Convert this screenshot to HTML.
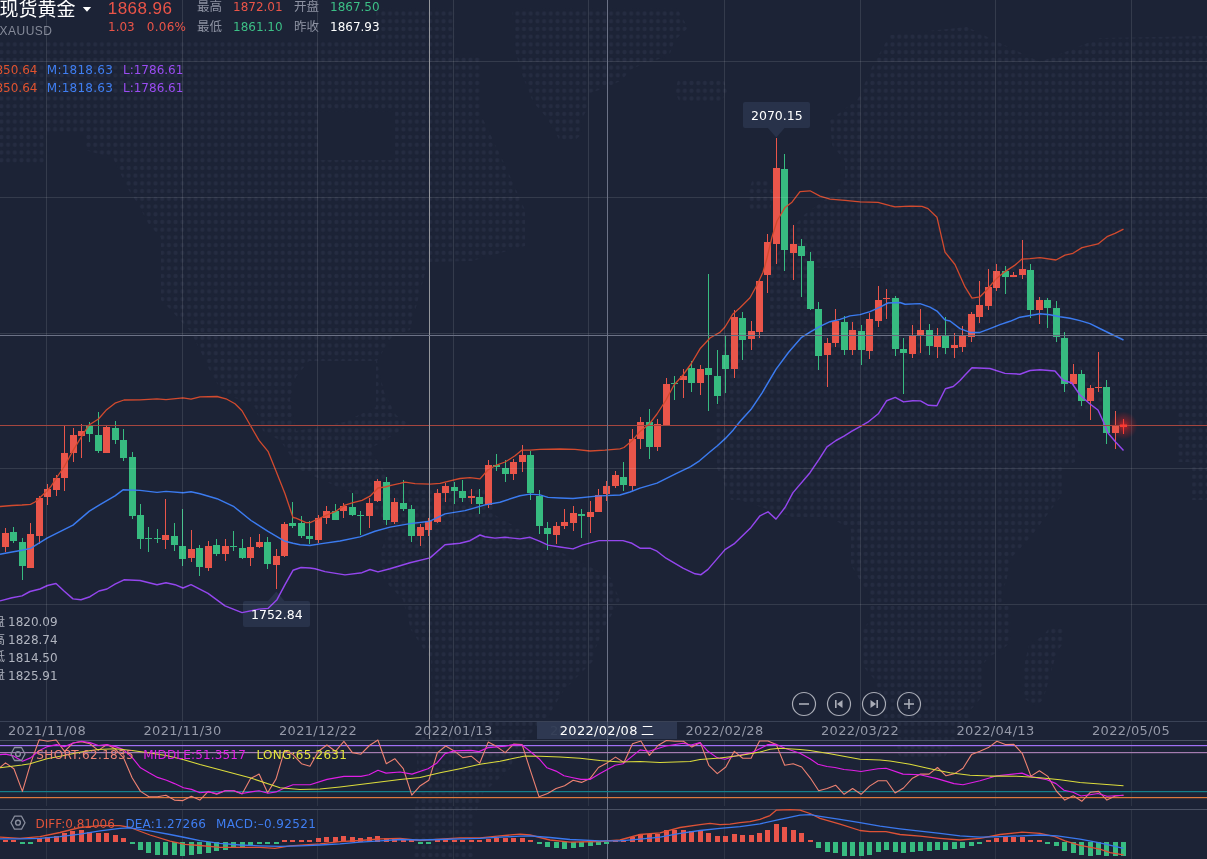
<!DOCTYPE html>
<html><head><meta charset="utf-8"><style>
html,body{margin:0;padding:0;background:#1c2336;}
body{width:1207px;height:859px;overflow:hidden;position:relative;}
svg{position:absolute;left:0;top:0;display:block;}
.n{font-family:"DejaVu Sans","Liberation Sans",sans-serif;font-size:12px;}
.l{font-family:"Liberation Sans","Noto Sans CJK SC",sans-serif;}
.c{font-family:"Liberation Sans","Noto Sans CJK SC",sans-serif;font-size:12.5px;}
</style></head><body>
<svg width="1207" height="859" viewBox="0 0 1207 859">
<rect width="1207" height="859" fill="#1c2336"/>

<defs><pattern id="dp" patternUnits="userSpaceOnUse" x="-1.95" y="1.94" width="6.7" height="7.72"><circle cx="3.35" cy="3.86" r="2.1" fill="#252c41"/></pattern>
<mask id="lm" maskUnits="userSpaceOnUse" x="0" y="0" width="1207" height="859">
<polygon points="0,40 376,40 376,8 455,8 455,56 481,56 481,115 505,165 525,210 525,246 472,261 428,262 410,330 391,338 377,361 384,392 396,415 410,425 363,453 363,485 357,485 350,470 330,461 290,446 263,431 255,407 222,392 209,369 202,354 190,331 169,308 161,300 161,238 148,223 138,204 128,189 113,158 85,150 85,132 46,132 46,163 0,163" fill="#fff"/>
<polygon points="512,8 677,8 688,28 675,40 669,56 643,64 630,70 622,80 608,87 587,94 587,110 582,118 582,134 574,141 560,141 547,118 533,102 527,87 521,72 515,50" fill="#fff"/>
<polygon points="678,80 724,80 727,92 720,103 680,103 675,92" fill="#fff"/>
<polygon points="752,181 768,181 774,195 770,210 750,210 748,195" fill="#fff"/>
<polygon points="280,408 364,408 364,440 395,488 495,488 495,515 549,546 610,577 620,600 603,630 595,650 594,660 564,690 549,715 519,745 510,769 483,793 479,805 473,820 473,859 413,859 413,814 419,793 416,745 433,715 431,660 411,630 403,600 384,580 380,554 388,531 370,500 340,488 300,470 280,440" fill="#fff"/>
<polygon points="890,35 967,27 1000,43 1040,62 1100,38 1207,36 1207,500 1192,500 1192,462 1177,462 1177,410 1075,410 1075,462 1062,467 1062,495 1050,511 1030,538 1011,558 1007,578 1003,590 1003,601 1010.5,607 1010.5,642 1003,649 989,657 982.5,665 982.5,696 976,704 969.5,711 969.5,719 963,727 957,735 950,750 943,759 902,759 894.6,750 894.6,735 888,727 881.6,719 881.6,696 875,688 875,680 868.7,673 862,665 862,630 868.7,622 868.7,590 865,589 851,565 851,530 830,517 792,517 739,500 731,500 717,468 716,403 724,336 770,330 770,268 790,230 805,214 837,191 845,177 845,161 832,145 830,120 858,99 872,67" fill="#fff"/>
<polygon points="1050,627 1063,627 1063,644 1057,651 1050,676 1043,700 1035,706 1022,697 1022,676 1029,644 1043,636" fill="#fff"/>
<polygon points="815,268 882,268 886,290 880,320 815,320" fill="#000"/>
<polygon points="309,361 376,361 376,407 344,422 296,431 290,400 296,377" fill="#000"/>
<polygon points="318,112 395,112 395,160 318,160" fill="#000"/>
</mask></defs>
<rect x="0" y="0" width="1207" height="859" fill="url(#dp)" mask="url(#lm)"/>
<rect x="743" y="102" width="67" height="26" rx="2" fill="#28324a"/>
<path d="M767.5,127.5 L776.3,137.5 L785,127.5 Z" fill="#28324a"/>
<rect x="243" y="601" width="67" height="26" rx="2" fill="#28324a"/>
<path d="M267.5,601.5 L276.3,591.5 L285,601.5 Z" fill="#28324a"/>
<defs><radialGradient id="gl"><stop offset="0" stop-color="#ff2222" stop-opacity="0.7"/><stop offset="0.45" stop-color="#ff2222" stop-opacity="0.3"/><stop offset="1" stop-color="#ff2020" stop-opacity="0"/></radialGradient></defs>
<circle cx="1123.5" cy="425.5" r="14" fill="url(#gl)"/>
<rect x="5" y="528" width="1" height="24" fill="#e9554a"/>
<rect x="2" y="533" width="7" height="14" fill="#e9554a"/>
<rect x="13" y="527" width="1" height="16" fill="#37bb80"/>
<rect x="10" y="532" width="7" height="9" fill="#37bb80"/>
<rect x="22" y="538" width="1" height="42" fill="#37bb80"/>
<rect x="19" y="542" width="7" height="24" fill="#37bb80"/>
<rect x="30" y="523" width="1" height="45" fill="#e9554a"/>
<rect x="27" y="534" width="7" height="34" fill="#e9554a"/>
<rect x="39" y="496" width="1" height="48" fill="#e9554a"/>
<rect x="36" y="498" width="7" height="38" fill="#e9554a"/>
<rect x="47" y="484" width="1" height="21" fill="#e9554a"/>
<rect x="44" y="489" width="7" height="8" fill="#e9554a"/>
<rect x="56" y="475" width="1" height="21" fill="#e9554a"/>
<rect x="53" y="478" width="7" height="12" fill="#e9554a"/>
<rect x="64" y="425" width="1" height="66" fill="#e9554a"/>
<rect x="61" y="453" width="7" height="25" fill="#e9554a"/>
<rect x="73" y="428" width="1" height="34" fill="#e9554a"/>
<rect x="70" y="435" width="7" height="18" fill="#e9554a"/>
<rect x="81" y="424" width="1" height="34" fill="#e9554a"/>
<rect x="78" y="431" width="7" height="5" fill="#e9554a"/>
<rect x="89" y="422" width="1" height="20" fill="#37bb80"/>
<rect x="86" y="425" width="7" height="9" fill="#37bb80"/>
<rect x="98" y="412" width="1" height="41" fill="#37bb80"/>
<rect x="95" y="435" width="7" height="16" fill="#37bb80"/>
<rect x="106" y="426" width="1" height="27" fill="#e9554a"/>
<rect x="103" y="427" width="7" height="26" fill="#e9554a"/>
<rect x="115" y="421" width="1" height="23" fill="#37bb80"/>
<rect x="112" y="428" width="7" height="12" fill="#37bb80"/>
<rect x="123" y="429" width="1" height="32" fill="#37bb80"/>
<rect x="120" y="440" width="7" height="18" fill="#37bb80"/>
<rect x="132" y="452" width="1" height="67" fill="#37bb80"/>
<rect x="129" y="457" width="7" height="59" fill="#37bb80"/>
<rect x="140" y="504" width="1" height="45" fill="#37bb80"/>
<rect x="137" y="515" width="7" height="24" fill="#37bb80"/>
<rect x="148" y="527" width="1" height="25" fill="#37bb80"/>
<rect x="145" y="538" width="7" height="1" fill="#37bb80"/>
<rect x="157" y="529" width="1" height="14" fill="#37bb80"/>
<rect x="154" y="538" width="7" height="1" fill="#37bb80"/>
<rect x="165" y="499" width="1" height="50" fill="#e9554a"/>
<rect x="162" y="535" width="7" height="5" fill="#e9554a"/>
<rect x="174" y="523" width="1" height="28" fill="#37bb80"/>
<rect x="171" y="536" width="7" height="9" fill="#37bb80"/>
<rect x="182" y="509" width="1" height="57" fill="#37bb80"/>
<rect x="179" y="546" width="7" height="13" fill="#37bb80"/>
<rect x="191" y="530" width="1" height="32" fill="#e9554a"/>
<rect x="188" y="549" width="7" height="9" fill="#e9554a"/>
<rect x="199" y="545" width="1" height="31" fill="#37bb80"/>
<rect x="196" y="548" width="7" height="19" fill="#37bb80"/>
<rect x="208" y="541" width="1" height="30" fill="#e9554a"/>
<rect x="205" y="546" width="7" height="22" fill="#e9554a"/>
<rect x="216" y="539" width="1" height="17" fill="#37bb80"/>
<rect x="213" y="545" width="7" height="9" fill="#37bb80"/>
<rect x="225" y="539" width="1" height="22" fill="#e9554a"/>
<rect x="222" y="546" width="7" height="8" fill="#e9554a"/>
<rect x="233" y="531" width="1" height="20" fill="#37bb80"/>
<rect x="230" y="546" width="7" height="1" fill="#37bb80"/>
<rect x="242" y="539" width="1" height="20" fill="#37bb80"/>
<rect x="239" y="548" width="7" height="10" fill="#37bb80"/>
<rect x="250" y="537" width="1" height="29" fill="#e9554a"/>
<rect x="247" y="547" width="7" height="11" fill="#e9554a"/>
<rect x="259" y="534" width="1" height="14" fill="#e9554a"/>
<rect x="256" y="542" width="7" height="5" fill="#e9554a"/>
<rect x="267" y="537" width="1" height="32" fill="#37bb80"/>
<rect x="264" y="542" width="7" height="22" fill="#37bb80"/>
<rect x="276" y="549" width="1" height="40" fill="#e9554a"/>
<rect x="273" y="556" width="7" height="9" fill="#e9554a"/>
<rect x="284" y="522" width="1" height="35" fill="#e9554a"/>
<rect x="281" y="524" width="7" height="32" fill="#e9554a"/>
<rect x="292" y="502" width="1" height="26" fill="#37bb80"/>
<rect x="289" y="523" width="7" height="3" fill="#37bb80"/>
<rect x="301" y="516" width="1" height="22" fill="#37bb80"/>
<rect x="298" y="523" width="7" height="13" fill="#37bb80"/>
<rect x="309" y="521" width="1" height="23" fill="#37bb80"/>
<rect x="306" y="536" width="7" height="3" fill="#37bb80"/>
<rect x="318" y="515" width="1" height="28" fill="#e9554a"/>
<rect x="315" y="518" width="7" height="22" fill="#e9554a"/>
<rect x="326" y="506" width="1" height="18" fill="#e9554a"/>
<rect x="323" y="511" width="7" height="7" fill="#e9554a"/>
<rect x="335" y="504" width="1" height="16" fill="#37bb80"/>
<rect x="332" y="511" width="7" height="9" fill="#37bb80"/>
<rect x="343" y="503" width="1" height="15" fill="#e9554a"/>
<rect x="340" y="506" width="7" height="5" fill="#e9554a"/>
<rect x="352" y="493" width="1" height="23" fill="#37bb80"/>
<rect x="349" y="507" width="7" height="8" fill="#37bb80"/>
<rect x="360" y="511" width="1" height="24" fill="#37bb80"/>
<rect x="357" y="515" width="7" height="1" fill="#37bb80"/>
<rect x="369" y="498" width="1" height="30" fill="#e9554a"/>
<rect x="366" y="503" width="7" height="13" fill="#e9554a"/>
<rect x="377" y="479" width="1" height="23" fill="#e9554a"/>
<rect x="374" y="481" width="7" height="20" fill="#e9554a"/>
<rect x="386" y="477" width="1" height="48" fill="#37bb80"/>
<rect x="383" y="482" width="7" height="38" fill="#37bb80"/>
<rect x="394" y="498" width="1" height="26" fill="#e9554a"/>
<rect x="391" y="502" width="7" height="20" fill="#e9554a"/>
<rect x="403" y="480" width="1" height="31" fill="#37bb80"/>
<rect x="400" y="503" width="7" height="6" fill="#37bb80"/>
<rect x="411" y="505" width="1" height="37" fill="#37bb80"/>
<rect x="408" y="509" width="7" height="27" fill="#37bb80"/>
<rect x="420" y="524" width="1" height="22" fill="#e9554a"/>
<rect x="417" y="527" width="7" height="9" fill="#e9554a"/>
<rect x="428" y="518" width="1" height="18" fill="#e9554a"/>
<rect x="425" y="521" width="7" height="9" fill="#e9554a"/>
<rect x="437" y="489" width="1" height="34" fill="#e9554a"/>
<rect x="434" y="493" width="7" height="29" fill="#e9554a"/>
<rect x="445" y="483" width="1" height="19" fill="#e9554a"/>
<rect x="442" y="486" width="7" height="7" fill="#e9554a"/>
<rect x="454" y="482" width="1" height="22" fill="#37bb80"/>
<rect x="451" y="487" width="7" height="4" fill="#37bb80"/>
<rect x="462" y="480" width="1" height="22" fill="#37bb80"/>
<rect x="459" y="491" width="7" height="7" fill="#37bb80"/>
<rect x="471" y="489" width="1" height="15" fill="#e9554a"/>
<rect x="468" y="496" width="7" height="2" fill="#e9554a"/>
<rect x="479" y="489" width="1" height="25" fill="#37bb80"/>
<rect x="476" y="497" width="7" height="7" fill="#37bb80"/>
<rect x="488" y="460" width="1" height="48" fill="#e9554a"/>
<rect x="485" y="465" width="7" height="40" fill="#e9554a"/>
<rect x="496" y="454" width="1" height="17" fill="#37bb80"/>
<rect x="493" y="465" width="7" height="2" fill="#37bb80"/>
<rect x="505" y="460" width="1" height="22" fill="#37bb80"/>
<rect x="502" y="468" width="7" height="6" fill="#37bb80"/>
<rect x="513" y="459" width="1" height="21" fill="#e9554a"/>
<rect x="510" y="462" width="7" height="12" fill="#e9554a"/>
<rect x="522" y="445" width="1" height="27" fill="#e9554a"/>
<rect x="519" y="455" width="7" height="7" fill="#e9554a"/>
<rect x="530" y="451" width="1" height="49" fill="#37bb80"/>
<rect x="527" y="455" width="7" height="38" fill="#37bb80"/>
<rect x="539" y="490" width="1" height="44" fill="#37bb80"/>
<rect x="536" y="496" width="7" height="30" fill="#37bb80"/>
<rect x="547" y="522" width="1" height="28" fill="#37bb80"/>
<rect x="544" y="528" width="7" height="6" fill="#37bb80"/>
<rect x="556" y="522" width="1" height="22" fill="#e9554a"/>
<rect x="553" y="526" width="7" height="9" fill="#e9554a"/>
<rect x="564" y="509" width="1" height="20" fill="#e9554a"/>
<rect x="561" y="522" width="7" height="4" fill="#e9554a"/>
<rect x="573" y="506" width="1" height="25" fill="#e9554a"/>
<rect x="570" y="513" width="7" height="10" fill="#e9554a"/>
<rect x="581" y="509" width="1" height="29" fill="#37bb80"/>
<rect x="578" y="514" width="7" height="2" fill="#37bb80"/>
<rect x="590" y="501" width="1" height="32" fill="#e9554a"/>
<rect x="587" y="512" width="7" height="5" fill="#e9554a"/>
<rect x="598" y="489" width="1" height="23" fill="#e9554a"/>
<rect x="595" y="495" width="7" height="17" fill="#e9554a"/>
<rect x="606" y="481" width="1" height="20" fill="#e9554a"/>
<rect x="603" y="486" width="7" height="8" fill="#e9554a"/>
<rect x="615" y="471" width="1" height="17" fill="#e9554a"/>
<rect x="612" y="475" width="7" height="11" fill="#e9554a"/>
<rect x="623" y="462" width="1" height="29" fill="#37bb80"/>
<rect x="620" y="477" width="7" height="8" fill="#37bb80"/>
<rect x="632" y="429" width="1" height="62" fill="#e9554a"/>
<rect x="629" y="439" width="7" height="47" fill="#e9554a"/>
<rect x="640" y="417" width="1" height="32" fill="#e9554a"/>
<rect x="637" y="422" width="7" height="17" fill="#e9554a"/>
<rect x="649" y="409" width="1" height="50" fill="#37bb80"/>
<rect x="646" y="422" width="7" height="25" fill="#37bb80"/>
<rect x="657" y="419" width="1" height="32" fill="#e9554a"/>
<rect x="654" y="424" width="7" height="23" fill="#e9554a"/>
<rect x="666" y="378" width="1" height="48" fill="#e9554a"/>
<rect x="663" y="384" width="7" height="41" fill="#e9554a"/>
<rect x="674" y="376" width="1" height="24" fill="#37bb80"/>
<rect x="671" y="383" width="7" height="1" fill="#37bb80"/>
<rect x="683" y="369" width="1" height="29" fill="#e9554a"/>
<rect x="680" y="376" width="7" height="4" fill="#e9554a"/>
<rect x="691" y="361" width="1" height="31" fill="#37bb80"/>
<rect x="688" y="368" width="7" height="15" fill="#37bb80"/>
<rect x="700" y="365" width="1" height="30" fill="#e9554a"/>
<rect x="697" y="369" width="7" height="14" fill="#e9554a"/>
<rect x="708" y="274" width="1" height="137" fill="#37bb80"/>
<rect x="705" y="368" width="7" height="7" fill="#37bb80"/>
<rect x="717" y="350" width="1" height="54" fill="#37bb80"/>
<rect x="714" y="376" width="7" height="20" fill="#37bb80"/>
<rect x="725" y="335" width="1" height="58" fill="#37bb80"/>
<rect x="722" y="355" width="7" height="14" fill="#37bb80"/>
<rect x="734" y="310" width="1" height="68" fill="#e9554a"/>
<rect x="731" y="317" width="7" height="52" fill="#e9554a"/>
<rect x="742" y="312" width="1" height="48" fill="#37bb80"/>
<rect x="739" y="318" width="7" height="22" fill="#37bb80"/>
<rect x="751" y="321" width="1" height="29" fill="#e9554a"/>
<rect x="748" y="331" width="7" height="8" fill="#e9554a"/>
<rect x="759" y="280" width="1" height="58" fill="#e9554a"/>
<rect x="756" y="281" width="7" height="51" fill="#e9554a"/>
<rect x="767" y="234" width="1" height="59" fill="#e9554a"/>
<rect x="764" y="242" width="7" height="33" fill="#e9554a"/>
<rect x="776" y="138" width="1" height="126" fill="#e9554a"/>
<rect x="773" y="168" width="7" height="76" fill="#e9554a"/>
<rect x="784" y="154" width="1" height="117" fill="#37bb80"/>
<rect x="781" y="169" width="7" height="81" fill="#37bb80"/>
<rect x="793" y="225" width="1" height="55" fill="#e9554a"/>
<rect x="790" y="244" width="7" height="9" fill="#e9554a"/>
<rect x="801" y="239" width="1" height="58" fill="#37bb80"/>
<rect x="798" y="246" width="7" height="10" fill="#37bb80"/>
<rect x="810" y="252" width="1" height="58" fill="#37bb80"/>
<rect x="807" y="261" width="7" height="48" fill="#37bb80"/>
<rect x="818" y="302" width="1" height="68" fill="#37bb80"/>
<rect x="815" y="309" width="7" height="47" fill="#37bb80"/>
<rect x="827" y="338" width="1" height="49" fill="#e9554a"/>
<rect x="824" y="343" width="7" height="12" fill="#e9554a"/>
<rect x="835" y="309" width="1" height="38" fill="#e9554a"/>
<rect x="832" y="321" width="7" height="22" fill="#e9554a"/>
<rect x="844" y="316" width="1" height="39" fill="#37bb80"/>
<rect x="841" y="322" width="7" height="28" fill="#37bb80"/>
<rect x="852" y="322" width="1" height="33" fill="#e9554a"/>
<rect x="849" y="330" width="7" height="20" fill="#e9554a"/>
<rect x="861" y="325" width="1" height="40" fill="#37bb80"/>
<rect x="858" y="331" width="7" height="19" fill="#37bb80"/>
<rect x="869" y="313" width="1" height="46" fill="#e9554a"/>
<rect x="866" y="319" width="7" height="32" fill="#e9554a"/>
<rect x="878" y="286" width="1" height="41" fill="#e9554a"/>
<rect x="875" y="300" width="7" height="21" fill="#e9554a"/>
<rect x="886" y="289" width="1" height="30" fill="#e9554a"/>
<rect x="883" y="298" width="7" height="1" fill="#e9554a"/>
<rect x="895" y="296" width="1" height="60" fill="#37bb80"/>
<rect x="892" y="298" width="7" height="51" fill="#37bb80"/>
<rect x="903" y="338" width="1" height="56" fill="#37bb80"/>
<rect x="900" y="349" width="7" height="4" fill="#37bb80"/>
<rect x="912" y="325" width="1" height="33" fill="#e9554a"/>
<rect x="909" y="336" width="7" height="18" fill="#e9554a"/>
<rect x="920" y="309" width="1" height="44" fill="#e9554a"/>
<rect x="917" y="330" width="7" height="5" fill="#e9554a"/>
<rect x="929" y="324" width="1" height="31" fill="#37bb80"/>
<rect x="926" y="330" width="7" height="16" fill="#37bb80"/>
<rect x="937" y="328" width="1" height="30" fill="#e9554a"/>
<rect x="934" y="335" width="7" height="12" fill="#e9554a"/>
<rect x="945" y="317" width="1" height="37" fill="#37bb80"/>
<rect x="942" y="336" width="7" height="12" fill="#37bb80"/>
<rect x="954" y="333" width="1" height="25" fill="#e9554a"/>
<rect x="951" y="345" width="7" height="3" fill="#e9554a"/>
<rect x="962" y="326" width="1" height="26" fill="#e9554a"/>
<rect x="959" y="336" width="7" height="11" fill="#e9554a"/>
<rect x="971" y="312" width="1" height="30" fill="#e9554a"/>
<rect x="968" y="314" width="7" height="23" fill="#e9554a"/>
<rect x="979" y="281" width="1" height="42" fill="#e9554a"/>
<rect x="976" y="305" width="7" height="12" fill="#e9554a"/>
<rect x="988" y="269" width="1" height="41" fill="#e9554a"/>
<rect x="985" y="287" width="7" height="19" fill="#e9554a"/>
<rect x="996" y="264" width="1" height="27" fill="#e9554a"/>
<rect x="993" y="271" width="7" height="17" fill="#e9554a"/>
<rect x="1005" y="266" width="1" height="28" fill="#37bb80"/>
<rect x="1002" y="271" width="7" height="6" fill="#37bb80"/>
<rect x="1013" y="272" width="1" height="5" fill="#e9554a"/>
<rect x="1010" y="275" width="7" height="2" fill="#e9554a"/>
<rect x="1022" y="240" width="1" height="39" fill="#e9554a"/>
<rect x="1019" y="269" width="7" height="6" fill="#e9554a"/>
<rect x="1030" y="264" width="1" height="54" fill="#37bb80"/>
<rect x="1027" y="270" width="7" height="40" fill="#37bb80"/>
<rect x="1039" y="297" width="1" height="27" fill="#e9554a"/>
<rect x="1036" y="300" width="7" height="10" fill="#e9554a"/>
<rect x="1047" y="298" width="1" height="30" fill="#37bb80"/>
<rect x="1044" y="300" width="7" height="8" fill="#37bb80"/>
<rect x="1056" y="301" width="1" height="41" fill="#37bb80"/>
<rect x="1053" y="308" width="7" height="29" fill="#37bb80"/>
<rect x="1064" y="332" width="1" height="60" fill="#37bb80"/>
<rect x="1061" y="338" width="7" height="46" fill="#37bb80"/>
<rect x="1073" y="364" width="1" height="22" fill="#e9554a"/>
<rect x="1070" y="374" width="7" height="10" fill="#e9554a"/>
<rect x="1081" y="370" width="1" height="36" fill="#37bb80"/>
<rect x="1078" y="374" width="7" height="27" fill="#37bb80"/>
<rect x="1090" y="385" width="1" height="35" fill="#e9554a"/>
<rect x="1087" y="388" width="7" height="13" fill="#e9554a"/>
<rect x="1098" y="352" width="1" height="40" fill="#e9554a"/>
<rect x="1095" y="387" width="7" height="1" fill="#e9554a"/>
<rect x="1106" y="380" width="1" height="64" fill="#37bb80"/>
<rect x="1103" y="387" width="7" height="46" fill="#37bb80"/>
<rect x="1115" y="411" width="1" height="38" fill="#e9554a"/>
<rect x="1112" y="426" width="7" height="7" fill="#e9554a"/>
<rect x="1123" y="419" width="1" height="15" fill="#fb3b33"/>
<rect x="1120" y="425" width="7" height="2" fill="#fb3b33"/>
<polyline points="0.0,506.5 12.0,505.5 22.0,505.0 30.5,504.3 35.0,502.0 40.0,497.5 47.0,491.0 51.0,486.4 56.0,478.5 64.0,467.0 73.0,450.6 81.5,436.6 89.0,425.0 98.5,419.0 106.0,410.3 115.0,403.2 124.0,400.0 140.0,399.8 157.0,398.8 166.0,399.6 183.0,397.9 191.0,399.2 200.0,396.9 217.0,396.5 226.0,398.8 235.0,403.8 242.0,410.7 251.0,426.5 259.0,440.4 268.0,451.3 276.0,471.0 285.0,493.8 293.0,517.5 296.0,518.2 306.0,522.7 310.0,522.7 318.0,519.0 327.0,514.9 335.0,511.7 345.0,505.1 353.0,502.7 362.0,500.3 370.0,496.2 378.0,488.0 385.0,487.0 390.0,485.6 400.0,483.4 405.0,482.1 415.0,483.7 430.0,484.2 440.0,483.4 450.0,480.8 460.0,478.5 470.0,477.6 480.0,478.9 488.0,469.7 496.0,465.3 505.0,462.0 515.0,455.8 522.0,450.1 530.0,450.1 540.0,449.3 560.0,449.0 575.0,449.3 590.0,451.0 605.0,450.2 620.0,448.8 624.0,447.5 632.0,440.8 640.0,431.4 649.0,424.3 657.0,414.0 666.0,400.0 674.0,385.0 683.0,375.0 691.0,364.0 700.0,348.8 710.0,338.0 720.0,332.2 725.0,327.0 733.0,313.9 740.0,307.8 750.0,297.8 757.0,285.0 763.0,272.3 767.0,258.0 772.0,237.0 777.0,221.0 785.0,207.4 792.0,202.2 800.0,191.7 810.0,190.8 820.0,196.1 830.0,199.1 845.0,200.4 860.0,201.9 878.0,202.4 890.0,205.6 895.0,206.8 910.0,206.1 922.0,206.3 928.0,208.6 937.0,217.3 945.0,252.1 955.0,264.5 965.0,286.9 972.0,298.1 980.0,296.8 988.0,288.7 996.0,279.0 1005.0,271.6 1015.0,265.1 1022.0,259.1 1030.0,258.6 1040.0,257.6 1056.0,260.0 1065.0,255.1 1073.0,253.3 1082.0,247.6 1098.0,243.9 1107.0,236.7 1115.0,233.4 1123.5,229.2" fill="none" stroke="#d24a2e" stroke-width="1.3" stroke-linejoin="round"/>
<polyline points="0.0,554.2 12.0,552.0 22.0,550.3 30.5,548.4 47.5,537.9 73.0,525.1 89.4,511.1 100.0,504.7 115.0,495.8 123.0,489.8 140.0,490.4 157.0,492.4 166.0,491.4 183.0,492.8 191.0,491.8 200.0,493.8 217.0,498.7 234.0,506.7 251.0,520.5 268.0,531.4 285.0,541.3 293.0,543.3 300.0,544.8 310.0,545.5 320.0,543.9 340.0,541.0 360.0,536.9 375.0,531.2 390.0,527.1 410.0,523.6 430.0,521.2 445.0,513.9 465.0,510.6 485.0,504.9 500.0,502.2 520.0,495.7 530.0,494.1 540.0,494.9 548.0,497.4 560.0,498.0 573.0,498.5 599.0,495.9 620.0,495.0 630.0,492.0 640.0,488.1 657.0,483.1 675.0,474.2 690.6,466.7 699.5,460.8 709.5,452.3 717.4,445.8 725.4,438.4 733.3,429.9 740.0,421.5 750.9,409.6 762.1,392.8 776.1,369.1 788.6,352.3 801.2,337.7 810.0,332.1 820.0,326.4 830.0,321.7 840.0,319.4 850.0,315.9 860.0,314.6 870.0,311.6 880.0,307.1 888.0,303.0 900.0,302.5 905.0,304.3 920.0,303.6 930.0,307.1 937.0,311.1 945.0,319.9 950.0,321.0 960.0,328.6 970.0,332.4 980.0,332.4 990.0,328.6 1000.0,324.6 1010.0,321.3 1020.0,317.2 1030.0,315.5 1040.0,313.7 1050.0,314.7 1060.0,316.7 1070.0,318.3 1080.0,320.6 1090.0,323.6 1102.8,330.0 1110.0,333.5 1123.5,340.0" fill="none" stroke="#3b7bf0" stroke-width="1.45" stroke-linejoin="round"/>
<polyline points="0.0,600.9 12.0,597.7 22.0,595.9 30.0,591.5 40.0,589.0 47.5,585.5 56.0,583.5 64.0,591.0 73.0,598.9 81.0,599.7 90.0,596.7 99.0,591.0 107.0,589.0 115.0,584.2 124.0,579.8 140.0,580.5 157.0,584.7 166.0,582.8 175.0,584.7 183.0,588.0 191.0,584.7 208.0,593.4 225.0,605.9 242.0,612.6 259.0,609.1 268.0,608.4 277.0,599.7 285.0,584.7 293.0,570.3 301.0,567.5 310.0,568.0 315.0,568.7 325.0,571.6 345.0,574.9 362.0,572.7 370.0,569.5 378.0,571.9 390.0,568.7 410.0,562.7 430.0,557.9 445.0,544.8 460.0,543.2 470.0,540.7 480.0,535.0 485.0,536.7 495.0,538.1 505.0,537.3 520.0,538.9 530.0,537.3 540.0,541.3 548.0,545.1 560.0,547.0 573.0,548.9 583.0,544.9 599.0,540.6 623.0,540.6 632.0,543.3 640.0,548.2 650.0,548.2 657.0,551.2 666.0,558.2 683.0,568.1 695.0,573.8 701.0,574.7 708.0,569.4 725.0,549.6 734.0,543.9 751.0,527.4 760.0,515.8 768.0,511.8 776.0,519.1 785.0,507.5 793.0,492.6 810.0,472.7 819.0,459.4 827.0,446.8 836.0,440.5 844.0,436.2 851.9,431.2 860.9,426.2 867.8,422.2 878.3,413.8 886.7,400.7 895.2,397.4 903.6,401.9 912.6,400.7 920.5,400.9 928.5,405.3 936.9,405.8 945.4,388.7 953.3,386.5 960.0,380.5 965.0,375.0 972.0,367.7 990.0,368.5 1005.0,373.4 1020.0,374.2 1030.0,370.5 1040.0,369.7 1055.0,371.0 1062.7,380.0 1071.8,383.0 1080.0,395.0 1090.0,404.0 1098.0,410.0 1103.5,422.0 1108.0,433.0 1115.6,442.0 1123.5,450.5" fill="none" stroke="#9446ee" stroke-width="1.45" stroke-linejoin="round"/>
<rect x="0" y="61" width="1207" height="1" fill="rgba(255,255,255,0.11)"/>
<rect x="0" y="197" width="1207" height="1" fill="rgba(255,255,255,0.11)"/>
<rect x="0" y="333" width="1207" height="1" fill="rgba(255,255,255,0.11)"/>
<rect x="0" y="468" width="1207" height="1" fill="rgba(255,255,255,0.11)"/>
<rect x="0" y="604" width="1207" height="1" fill="rgba(255,255,255,0.11)"/>
<rect x="46" y="0" width="1" height="721" fill="rgba(255,255,255,0.11)"/>
<rect x="46" y="741" width="1" height="65" fill="rgba(255,255,255,0.11)" opacity="0.7"/>
<rect x="46" y="810" width="1" height="49" fill="rgba(255,255,255,0.11)" opacity="0.7"/>
<rect x="182" y="0" width="1" height="721" fill="rgba(255,255,255,0.11)"/>
<rect x="182" y="741" width="1" height="65" fill="rgba(255,255,255,0.11)" opacity="0.7"/>
<rect x="182" y="810" width="1" height="49" fill="rgba(255,255,255,0.11)" opacity="0.7"/>
<rect x="317" y="0" width="1" height="721" fill="rgba(255,255,255,0.11)"/>
<rect x="317" y="741" width="1" height="65" fill="rgba(255,255,255,0.11)" opacity="0.7"/>
<rect x="317" y="810" width="1" height="49" fill="rgba(255,255,255,0.11)" opacity="0.7"/>
<rect x="453" y="0" width="1" height="721" fill="rgba(255,255,255,0.11)"/>
<rect x="453" y="741" width="1" height="65" fill="rgba(255,255,255,0.11)" opacity="0.7"/>
<rect x="453" y="810" width="1" height="49" fill="rgba(255,255,255,0.11)" opacity="0.7"/>
<rect x="588" y="0" width="1" height="721" fill="rgba(255,255,255,0.11)"/>
<rect x="588" y="741" width="1" height="65" fill="rgba(255,255,255,0.11)" opacity="0.7"/>
<rect x="588" y="810" width="1" height="49" fill="rgba(255,255,255,0.11)" opacity="0.7"/>
<rect x="724" y="0" width="1" height="721" fill="rgba(255,255,255,0.11)"/>
<rect x="724" y="741" width="1" height="65" fill="rgba(255,255,255,0.11)" opacity="0.7"/>
<rect x="724" y="810" width="1" height="49" fill="rgba(255,255,255,0.11)" opacity="0.7"/>
<rect x="860" y="0" width="1" height="721" fill="rgba(255,255,255,0.11)"/>
<rect x="860" y="741" width="1" height="65" fill="rgba(255,255,255,0.11)" opacity="0.7"/>
<rect x="860" y="810" width="1" height="49" fill="rgba(255,255,255,0.11)" opacity="0.7"/>
<rect x="995" y="0" width="1" height="721" fill="rgba(255,255,255,0.11)"/>
<rect x="995" y="741" width="1" height="65" fill="rgba(255,255,255,0.11)" opacity="0.7"/>
<rect x="995" y="810" width="1" height="49" fill="rgba(255,255,255,0.11)" opacity="0.7"/>
<rect x="1131" y="0" width="1" height="721" fill="rgba(255,255,255,0.11)"/>
<rect x="1131" y="741" width="1" height="65" fill="rgba(255,255,255,0.11)" opacity="0.7"/>
<rect x="1131" y="810" width="1" height="49" fill="rgba(255,255,255,0.11)" opacity="0.7"/>
<rect x="0" y="721" width="1207" height="1" fill="#3a4256"/>
<rect x="0" y="740" width="1207" height="1" fill="#4a5163"/>
<rect x="0" y="809" width="1207" height="1" fill="#4a5163"/>
<rect x="0" y="425" width="1207" height="1" fill="#a5463f"/>
<rect x="429" y="0" width="1" height="739" fill="#95979c"/>
<rect x="0" y="335" width="1207" height="1" fill="#6c7286"/>
<rect x="607" y="0" width="1" height="859" fill="#6c7286"/>
<rect x="1123" y="419" width="1" height="15" fill="#fb3b33"/>
<rect x="1120" y="424.5" width="7" height="2.2" fill="#fb3b33"/>
<rect x="0" y="745" width="1207" height="1.2" fill="#a070f5"/>
<rect x="0" y="752" width="1207" height="1.2" fill="#a47cb0"/>
<rect x="0" y="791" width="1207" height="1.2" fill="#15808a"/>
<rect x="0" y="797" width="1207" height="1.2" fill="#de7a3c"/>
<polyline points="-3.0,770.0 5.5,762.9 13.9,768.7 22.4,791.4 30.8,762.9 39.2,739.7 47.7,741.3 56.1,740.0 64.6,751.3 73.0,743.0 81.4,741.6 89.9,743.8 98.3,750.4 106.8,744.6 115.2,748.8 123.6,757.9 132.1,777.8 140.5,791.4 149.0,796.8 157.4,796.8 165.9,795.2 174.4,800.1 182.9,800.6 191.3,796.3 199.8,800.1 208.3,791.4 216.7,794.3 225.2,790.7 233.7,790.7 242.1,794.0 250.6,778.6 259.1,774.1 267.6,792.7 276.0,779.1 284.5,750.4 293.0,754.6 301.5,763.7 310.0,766.2 318.4,751.3 326.9,745.0 335.4,751.3 343.9,741.3 352.4,752.6 360.9,754.2 369.4,745.5 377.9,740.0 386.3,763.7 394.8,758.7 403.3,768.7 411.8,795.2 420.3,785.7 428.8,780.3 437.3,752.9 445.7,746.0 454.2,750.9 462.7,757.6 471.2,756.2 479.7,763.2 488.2,742.1 496.7,746.6 505.2,752.6 513.6,744.1 522.1,744.6 530.6,771.1 539.1,796.8 547.6,793.5 556.1,788.5 564.6,785.7 573.1,780.3 581.5,782.4 590.0,778.6 598.5,767.5 607.0,762.9 615.5,757.1 624.0,762.5 632.5,743.8 640.9,741.0 649.4,755.4 657.9,745.5 666.4,740.5 674.9,741.3 683.4,741.3 691.9,747.1 700.4,742.6 708.8,765.3 717.3,773.6 725.8,767.0 734.3,751.3 742.7,758.2 751.1,758.2 759.5,741.0 767.9,741.0 776.3,744.6 784.7,765.3 793.2,763.7 801.7,767.0 810.2,777.8 818.7,790.7 827.1,788.5 835.6,785.2 844.1,794.3 852.6,788.5 861.1,794.3 869.6,786.1 878.1,780.8 886.6,780.8 895.1,793.0 903.5,788.0 912.0,778.6 920.5,774.1 929.0,774.1 937.5,767.5 946.0,775.8 954.5,773.6 963.0,768.2 971.5,754.6 979.9,751.3 988.4,747.6 996.9,741.3 1005.4,744.6 1013.9,744.3 1022.4,753.7 1030.9,776.1 1039.4,770.8 1047.9,776.4 1056.3,791.0 1064.8,800.1 1073.3,795.7 1081.8,801.3 1090.3,792.3 1098.6,791.4 1106.9,800.1 1115.2,796.0 1123.5,795.2" fill="none" stroke="#ee8272" stroke-width="1.1" stroke-linejoin="round"/>
<polyline points="0.0,754.6 5.5,754.1 13.5,755.9 22.5,761.2 30.5,757.9 39.5,750.4 47.5,746.6 56.5,744.6 64.5,746.6 73.5,743.0 81.5,741.3 90.0,742.6 98.5,745.5 106.5,744.6 115.5,746.6 123.5,749.6 132.5,757.9 140.5,767.8 149.5,773.1 157.5,777.4 166.5,780.3 174.5,783.6 183.5,787.7 191.5,789.4 200.0,792.7 208.0,791.9 217.0,793.5 225.0,790.7 234.0,790.7 242.0,793.5 251.0,791.9 259.0,790.7 268.0,793.2 276.0,791.9 285.0,787.7 293.0,784.7 310.0,784.7 327.0,779.4 344.0,776.4 361.0,776.4 369.0,774.8 378.0,770.3 386.0,773.1 400.0,772.0 412.0,774.1 428.0,768.7 437.0,762.9 445.0,753.7 454.0,750.9 471.0,750.4 479.0,751.6 488.0,747.6 505.0,746.3 513.0,744.6 522.0,745.0 530.0,751.3 539.0,758.7 547.0,767.8 556.0,771.1 564.0,775.8 573.0,777.8 581.0,779.4 590.0,779.4 600.0,773.6 615.0,765.3 623.0,763.7 640.0,749.9 649.0,751.3 666.0,746.0 683.0,743.3 691.0,745.0 700.0,742.6 708.0,751.3 717.0,757.6 725.0,759.2 734.0,756.2 751.0,752.9 768.0,744.6 776.0,744.3 785.0,748.3 800.0,753.2 810.0,758.7 818.0,764.2 827.0,766.5 835.0,767.5 844.0,769.5 852.0,770.3 861.0,771.5 878.0,768.7 886.0,768.2 903.0,774.1 920.0,774.8 937.0,778.6 954.0,783.6 963.0,784.7 980.0,780.8 997.0,775.8 1013.0,774.1 1022.0,773.1 1030.0,776.4 1047.0,779.8 1056.0,783.6 1064.0,790.2 1073.0,792.3 1081.0,796.0 1090.0,794.7 1098.0,793.5 1107.0,796.3 1115.0,795.7 1123.5,795.2" fill="none" stroke="#e01ee6" stroke-width="1.15" stroke-linejoin="round"/>
<polyline points="0.0,767.8 22.0,765.0 30.0,763.7 47.0,758.7 64.0,755.4 81.0,752.1 98.0,749.6 115.0,748.8 132.0,750.4 150.0,752.9 166.0,755.4 183.0,759.5 200.0,764.5 250.0,777.8 280.0,787.7 300.0,789.4 320.0,789.0 340.0,786.9 360.0,784.4 380.0,781.9 400.0,779.4 420.0,777.4 440.0,772.8 460.0,768.7 480.0,764.2 500.0,761.2 520.0,757.1 525.0,755.9 540.0,756.2 560.0,757.1 580.0,758.2 600.0,760.4 620.0,762.0 640.0,761.5 660.0,762.5 690.0,761.5 700.0,759.5 720.0,757.9 740.0,755.4 760.0,752.1 770.0,749.3 780.0,748.3 800.0,749.6 810.0,750.4 830.0,753.7 860.0,759.2 880.0,759.9 890.0,760.9 910.0,764.2 930.0,768.7 950.0,772.8 970.0,775.3 990.0,776.1 1000.0,776.1 1022.0,776.4 1040.0,777.8 1060.0,779.8 1080.0,782.4 1100.0,784.1 1123.5,785.7" fill="none" stroke="#dcdc3c" stroke-width="1.05" stroke-linejoin="round"/>
<rect x="3" y="840" width="5" height="2" fill="#e9554a"/>
<rect x="11" y="840" width="5" height="2" fill="#e9554a"/>
<rect x="20" y="842" width="5" height="2" fill="#37bb80"/>
<rect x="28" y="842" width="5" height="2" fill="#37bb80"/>
<rect x="37" y="838" width="5" height="4" fill="#e9554a"/>
<rect x="45" y="837" width="5" height="5" fill="#e9554a"/>
<rect x="54" y="836" width="5" height="6" fill="#e9554a"/>
<rect x="62" y="833" width="5" height="9" fill="#e9554a"/>
<rect x="70" y="831" width="5" height="11" fill="#e9554a"/>
<rect x="79" y="830" width="5" height="12" fill="#e9554a"/>
<rect x="87" y="832" width="5" height="10" fill="#e9554a"/>
<rect x="96" y="833" width="5" height="9" fill="#e9554a"/>
<rect x="104" y="833" width="5" height="9" fill="#e9554a"/>
<rect x="113" y="835" width="5" height="7" fill="#e9554a"/>
<rect x="121" y="838" width="5" height="4" fill="#e9554a"/>
<rect x="130" y="842" width="5" height="2" fill="#37bb80"/>
<rect x="138" y="842" width="5" height="8" fill="#37bb80"/>
<rect x="146" y="842" width="5" height="11" fill="#37bb80"/>
<rect x="155" y="842" width="5" height="13" fill="#37bb80"/>
<rect x="163" y="842" width="5" height="13" fill="#37bb80"/>
<rect x="172" y="842" width="5" height="13" fill="#37bb80"/>
<rect x="180" y="842" width="5" height="14" fill="#37bb80"/>
<rect x="189" y="842" width="5" height="13" fill="#37bb80"/>
<rect x="197" y="842" width="5" height="12" fill="#37bb80"/>
<rect x="206" y="842" width="5" height="11" fill="#37bb80"/>
<rect x="214" y="842" width="5" height="9" fill="#37bb80"/>
<rect x="223" y="842" width="5" height="8" fill="#37bb80"/>
<rect x="231" y="842" width="5" height="5" fill="#37bb80"/>
<rect x="240" y="842" width="5" height="5" fill="#37bb80"/>
<rect x="248" y="842" width="5" height="4" fill="#37bb80"/>
<rect x="257" y="842" width="5" height="2" fill="#37bb80"/>
<rect x="265" y="842" width="5" height="2" fill="#37bb80"/>
<rect x="274" y="842" width="5" height="2" fill="#37bb80"/>
<rect x="282" y="840" width="5" height="2" fill="#e9554a"/>
<rect x="290" y="840" width="5" height="2" fill="#e9554a"/>
<rect x="299" y="840" width="5" height="2" fill="#e9554a"/>
<rect x="307" y="840" width="5" height="2" fill="#e9554a"/>
<rect x="316" y="838" width="5" height="4" fill="#e9554a"/>
<rect x="324" y="837" width="5" height="5" fill="#e9554a"/>
<rect x="333" y="837" width="5" height="5" fill="#e9554a"/>
<rect x="341" y="836" width="5" height="6" fill="#e9554a"/>
<rect x="350" y="837" width="5" height="5" fill="#e9554a"/>
<rect x="358" y="838" width="5" height="4" fill="#e9554a"/>
<rect x="367" y="837" width="5" height="5" fill="#e9554a"/>
<rect x="375" y="836" width="5" height="6" fill="#e9554a"/>
<rect x="384" y="838" width="5" height="4" fill="#e9554a"/>
<rect x="392" y="839" width="5" height="3" fill="#e9554a"/>
<rect x="401" y="840" width="5" height="2" fill="#e9554a"/>
<rect x="409" y="840" width="5" height="2" fill="#e9554a"/>
<rect x="418" y="842" width="5" height="2" fill="#37bb80"/>
<rect x="426" y="842" width="5" height="2" fill="#37bb80"/>
<rect x="435" y="840" width="5" height="2" fill="#e9554a"/>
<rect x="443" y="840" width="5" height="2" fill="#e9554a"/>
<rect x="452" y="840" width="5" height="2" fill="#e9554a"/>
<rect x="460" y="840" width="5" height="2" fill="#e9554a"/>
<rect x="469" y="840" width="5" height="2" fill="#e9554a"/>
<rect x="477" y="840" width="5" height="2" fill="#e9554a"/>
<rect x="486" y="839" width="5" height="3" fill="#e9554a"/>
<rect x="494" y="838" width="5" height="4" fill="#e9554a"/>
<rect x="503" y="838" width="5" height="4" fill="#e9554a"/>
<rect x="511" y="838" width="5" height="4" fill="#e9554a"/>
<rect x="520" y="838" width="5" height="4" fill="#e9554a"/>
<rect x="528" y="840" width="5" height="2" fill="#e9554a"/>
<rect x="537" y="842" width="5" height="2" fill="#37bb80"/>
<rect x="545" y="842" width="5" height="5" fill="#37bb80"/>
<rect x="554" y="842" width="5" height="6" fill="#37bb80"/>
<rect x="562" y="842" width="5" height="7" fill="#37bb80"/>
<rect x="571" y="842" width="5" height="6" fill="#37bb80"/>
<rect x="579" y="842" width="5" height="5" fill="#37bb80"/>
<rect x="588" y="842" width="5" height="4" fill="#37bb80"/>
<rect x="596" y="842" width="5" height="3" fill="#37bb80"/>
<rect x="604" y="842" width="5" height="2" fill="#37bb80"/>
<rect x="613" y="840" width="5" height="2" fill="#e9554a"/>
<rect x="621" y="840" width="5" height="2" fill="#e9554a"/>
<rect x="630" y="837" width="5" height="5" fill="#e9554a"/>
<rect x="638" y="834" width="5" height="8" fill="#e9554a"/>
<rect x="647" y="834" width="5" height="8" fill="#e9554a"/>
<rect x="655" y="834" width="5" height="8" fill="#e9554a"/>
<rect x="664" y="830" width="5" height="12" fill="#e9554a"/>
<rect x="672" y="830" width="5" height="12" fill="#e9554a"/>
<rect x="681" y="830" width="5" height="12" fill="#e9554a"/>
<rect x="689" y="831" width="5" height="11" fill="#e9554a"/>
<rect x="698" y="831" width="5" height="11" fill="#e9554a"/>
<rect x="706" y="833" width="5" height="9" fill="#e9554a"/>
<rect x="715" y="836" width="5" height="6" fill="#e9554a"/>
<rect x="723" y="836" width="5" height="6" fill="#e9554a"/>
<rect x="732" y="834" width="5" height="8" fill="#e9554a"/>
<rect x="740" y="835" width="5" height="7" fill="#e9554a"/>
<rect x="749" y="835" width="5" height="7" fill="#e9554a"/>
<rect x="757" y="833" width="5" height="9" fill="#e9554a"/>
<rect x="765" y="830" width="5" height="12" fill="#e9554a"/>
<rect x="774" y="824" width="5" height="18" fill="#e9554a"/>
<rect x="782" y="827" width="5" height="15" fill="#e9554a"/>
<rect x="791" y="830" width="5" height="12" fill="#e9554a"/>
<rect x="799" y="833" width="5" height="9" fill="#e9554a"/>
<rect x="808" y="840" width="5" height="2" fill="#e9554a"/>
<rect x="816" y="842" width="5" height="6" fill="#37bb80"/>
<rect x="825" y="842" width="5" height="10" fill="#37bb80"/>
<rect x="833" y="842" width="5" height="11" fill="#37bb80"/>
<rect x="842" y="842" width="5" height="14" fill="#37bb80"/>
<rect x="850" y="842" width="5" height="14" fill="#37bb80"/>
<rect x="859" y="842" width="5" height="14" fill="#37bb80"/>
<rect x="867" y="842" width="5" height="13" fill="#37bb80"/>
<rect x="876" y="842" width="5" height="10" fill="#37bb80"/>
<rect x="884" y="842" width="5" height="8" fill="#37bb80"/>
<rect x="893" y="842" width="5" height="10" fill="#37bb80"/>
<rect x="901" y="842" width="5" height="11" fill="#37bb80"/>
<rect x="910" y="842" width="5" height="10" fill="#37bb80"/>
<rect x="918" y="842" width="5" height="9" fill="#37bb80"/>
<rect x="927" y="842" width="5" height="9" fill="#37bb80"/>
<rect x="935" y="842" width="5" height="8" fill="#37bb80"/>
<rect x="943" y="842" width="5" height="8" fill="#37bb80"/>
<rect x="952" y="842" width="5" height="7" fill="#37bb80"/>
<rect x="960" y="842" width="5" height="6" fill="#37bb80"/>
<rect x="969" y="842" width="5" height="4" fill="#37bb80"/>
<rect x="977" y="842" width="5" height="2" fill="#37bb80"/>
<rect x="986" y="840" width="5" height="2" fill="#e9554a"/>
<rect x="994" y="838" width="5" height="4" fill="#e9554a"/>
<rect x="1003" y="837" width="5" height="5" fill="#e9554a"/>
<rect x="1011" y="837" width="5" height="5" fill="#e9554a"/>
<rect x="1020" y="837" width="5" height="5" fill="#e9554a"/>
<rect x="1028" y="840" width="5" height="2" fill="#e9554a"/>
<rect x="1037" y="840" width="5" height="2" fill="#e9554a"/>
<rect x="1045" y="842" width="5" height="2" fill="#37bb80"/>
<rect x="1054" y="842" width="5" height="4" fill="#37bb80"/>
<rect x="1062" y="842" width="5" height="9" fill="#37bb80"/>
<rect x="1071" y="842" width="5" height="11" fill="#37bb80"/>
<rect x="1079" y="842" width="5" height="13" fill="#37bb80"/>
<rect x="1088" y="842" width="5" height="14" fill="#37bb80"/>
<rect x="1096" y="842" width="5" height="13" fill="#37bb80"/>
<rect x="1104" y="842" width="5" height="14" fill="#37bb80"/>
<rect x="1113" y="842" width="5" height="14" fill="#37bb80"/>
<rect x="1121" y="842" width="5" height="14" fill="#37bb80"/>
<polyline points="0.0,837.2 20.0,838.3 40.0,836.7 60.0,832.5 80.0,827.5 100.0,825.6 120.0,825.6 130.0,827.5 150.0,835.0 170.0,841.1 185.0,844.4 200.0,845.5 220.0,847.4 240.0,847.4 260.0,847.4 275.0,848.3 290.0,845.8 320.0,843.8 340.0,841.6 360.0,840.5 380.0,838.8 400.0,838.3 420.0,840.5 440.0,839.1 460.0,837.8 480.0,837.8 500.0,835.8 520.0,834.2 530.0,835.0 550.0,840.0 570.0,842.1 600.0,841.5 620.0,840.0 640.0,834.5 660.0,832.8 680.0,827.5 700.0,824.6 710.0,823.4 720.0,824.6 730.0,824.2 740.0,822.6 750.0,821.7 760.0,819.3 770.0,815.6 776.5,810.1 790.0,809.6 800.0,810.1 810.0,813.5 820.0,818.4 840.0,824.2 860.0,830.5 870.0,831.7 886.0,831.7 900.0,834.5 920.0,836.2 940.0,838.3 960.0,840.0 980.0,838.3 1000.0,834.5 1022.0,832.2 1040.0,833.3 1055.0,836.7 1065.0,840.8 1080.0,845.4 1100.0,849.1 1110.0,852.7 1123.5,854.9" fill="none" stroke="#de5236" stroke-width="1.3" stroke-linejoin="round"/>
<polyline points="0.0,838.8 20.0,838.8 40.0,838.3 60.0,836.7 80.0,834.2 100.0,830.9 120.0,828.4 130.0,827.9 150.0,830.9 170.0,834.5 185.0,837.5 200.0,840.6 220.0,843.3 240.0,845.0 260.0,845.8 280.0,846.3 300.0,845.8 320.0,845.0 340.0,843.8 360.0,842.1 380.0,840.8 400.0,839.5 420.0,840.0 440.0,839.5 460.0,838.8 480.0,838.3 500.0,837.2 520.0,836.2 530.0,835.8 550.0,837.5 570.0,839.5 600.0,840.8 620.0,840.8 640.0,839.1 660.0,837.2 680.0,833.3 700.0,830.5 720.0,828.4 740.0,826.7 760.0,823.9 780.0,819.3 800.0,815.1 810.0,814.6 820.0,816.3 840.0,819.3 860.0,822.6 880.0,826.2 900.0,828.9 920.0,831.2 940.0,833.3 960.0,835.8 980.0,837.2 1000.0,836.7 1022.0,835.8 1040.0,835.0 1057.0,835.8 1080.0,839.1 1100.0,842.8 1123.5,848.3" fill="none" stroke="#3a78ee" stroke-width="1.3" stroke-linejoin="round"/>
<text x="-0.5" y="16.2" font-family="Liberation Sans, Noto Sans CJK SC, sans-serif" font-size="19" fill="#ffffff">现货黄金</text>
<path d="M82.8,7 L91.1,7 L87,11.8 Z" fill="#ffffff"/>
<text x="107.8" y="14" class="l" style="font-size:17px;letter-spacing:0.45px" fill="#ea5448">1868.96</text>
<text x="-0.5" y="34.6" class="l" style="font-size:12px;letter-spacing:0.5px" fill="#858a99">XAUUSD</text>
<text x="108" y="30.8" class="n" fill="#ea5448">1.03</text>
<text x="146.8" y="30.8" class="n" style="letter-spacing:0.25px" fill="#ea5448">0.06%</text>
<text x="197" y="10.5" font-family="Liberation Sans, Noto Sans CJK SC, sans-serif" font-size="12.5" fill="#8d92a2">最高</text>
<text x="233" y="11.3" class="n" fill="#ea5448">1872.01</text>
<text x="294" y="10.5" font-family="Liberation Sans, Noto Sans CJK SC, sans-serif" font-size="12.5" fill="#8d92a2">开盘</text>
<text x="330" y="11.3" class="n" fill="#3cbf86">1867.50</text>
<text x="197" y="30.5" font-family="Liberation Sans, Noto Sans CJK SC, sans-serif" font-size="12.5" fill="#8d92a2">最低</text>
<text x="233" y="30.7" class="n" fill="#3cbf86">1861.10</text>
<text x="294" y="30.5" font-family="Liberation Sans, Noto Sans CJK SC, sans-serif" font-size="12.5" fill="#8d92a2">昨收</text>
<text x="330" y="30.7" class="n" fill="#ffffff">1867.93</text>
<text x="-25" y="73.7" class="n" fill="#e0532f">U:1850.64</text>
<text x="46.8" y="73.7" class="n" style="letter-spacing:0.25px" fill="#3f7ef2">M:1818.63</text>
<text x="123" y="73.7" class="n" fill="#9a4cf2">L:1786.61</text>
<text x="-25" y="91.6" class="n" fill="#e0532f">U:1850.64</text>
<text x="46.8" y="91.6" class="n" style="letter-spacing:0.25px" fill="#3f7ef2">M:1818.63</text>
<text x="123" y="91.6" class="n" fill="#9a4cf2">L:1786.61</text>
<text x="751" y="120.2" class="n" style="font-size:12.5px" fill="#ffffff">2070.15</text>
<text x="251" y="619.2" class="n" style="font-size:12.5px" fill="#ffffff">1752.84</text>
<text x="-19" y="625.5" font-family="Liberation Sans, Noto Sans CJK SC, sans-serif" font-size="12" fill="#a9adb9">开盘</text>
<text x="8" y="626" class="n" fill="#b0b4bf">1820.09</text>
<text x="-19" y="643.5" font-family="Liberation Sans, Noto Sans CJK SC, sans-serif" font-size="12" fill="#a9adb9">最高</text>
<text x="8" y="644" class="n" fill="#b0b4bf">1828.74</text>
<text x="-19" y="661.2" font-family="Liberation Sans, Noto Sans CJK SC, sans-serif" font-size="12" fill="#a9adb9">最低</text>
<text x="8" y="661.7" class="n" fill="#b0b4bf">1814.50</text>
<text x="-19" y="679.3" font-family="Liberation Sans, Noto Sans CJK SC, sans-serif" font-size="12" fill="#a9adb9">收盘</text>
<text x="8" y="679.8" class="n" fill="#b0b4bf">1825.91</text>
<text x="47" y="735.2" class="n" style="font-size:13px;letter-spacing:0.3px" text-anchor="middle" fill="#9599a8">2021/11/08</text>
<text x="182.5" y="735.2" class="n" style="font-size:13px;letter-spacing:0.3px" text-anchor="middle" fill="#9599a8">2021/11/30</text>
<text x="318" y="735.2" class="n" style="font-size:13px;letter-spacing:0.3px" text-anchor="middle" fill="#9599a8">2021/12/22</text>
<text x="453.5" y="735.2" class="n" style="font-size:13px;letter-spacing:0.3px" text-anchor="middle" fill="#9599a8">2022/01/13</text>
<text x="589" y="735.2" class="n" style="font-size:13px;letter-spacing:0.3px" text-anchor="middle" fill="#9599a8">2022/02/04</text>
<text x="724.5" y="735.2" class="n" style="font-size:13px;letter-spacing:0.3px" text-anchor="middle" fill="#9599a8">2022/02/28</text>
<text x="860" y="735.2" class="n" style="font-size:13px;letter-spacing:0.3px" text-anchor="middle" fill="#9599a8">2022/03/22</text>
<text x="995.5" y="735.2" class="n" style="font-size:13px;letter-spacing:0.3px" text-anchor="middle" fill="#9599a8">2022/04/13</text>
<text x="1131" y="735.2" class="n" style="font-size:13px;letter-spacing:0.3px" text-anchor="middle" fill="#9599a8">2022/05/05</text>
<rect x="537" y="722" width="140" height="17" fill="#2f3a53" opacity="0.93"/>
<rect x="607" y="722" width="1" height="17" fill="#6c7286" opacity="0.35"/>
<text x="559.8" y="735.2" class="n" style="font-size:13px;letter-spacing:0.3px" fill="#ffffff">2022/02/08</text>
<text x="641" y="735.2" font-family="Liberation Sans, Noto Sans CJK SC, sans-serif" font-size="13" fill="#ffffff">二</text>
<circle cx="804" cy="704" r="11.5" fill="none" stroke="#a9acb6" stroke-width="1.2"/>
<rect x="799" y="703.2" width="10" height="1.6" fill="#a9acb6"/>
<circle cx="839" cy="704" r="11.5" fill="none" stroke="#a9acb6" stroke-width="1.2"/>
<rect x="835" y="700" width="1.6" height="8" fill="#a9acb6"/>
<path d="M837,704 L842.5,700 L842.5,708 Z" fill="#a9acb6"/>
<circle cx="874" cy="704" r="11.5" fill="none" stroke="#a9acb6" stroke-width="1.2"/>
<rect x="876.4" y="700" width="1.6" height="8" fill="#a9acb6"/>
<path d="M876,704 L870.5,700 L870.5,708 Z" fill="#a9acb6"/>
<circle cx="909" cy="704" r="11.5" fill="none" stroke="#a9acb6" stroke-width="1.2"/>
<rect x="904" y="703.2" width="10" height="1.6" fill="#a9acb6"/>
<rect x="908.2" y="699" width="1.6" height="10" fill="#a9acb6"/>
<polygon points="25.00,754.00 21.50,747.50 14.50,747.50 11.00,754.00 14.50,760.50 21.50,760.50" fill="none" stroke="#8a8f9e" stroke-width="1.3" stroke-linejoin="round"/><circle cx="18" cy="754" r="2.4" fill="none" stroke="#8a8f9e" stroke-width="1.4"/>
<polygon points="25.00,822.70 21.50,816.20 14.50,816.20 11.00,822.70 14.50,829.20 21.50,829.20" fill="none" stroke="#8a8f9e" stroke-width="1.3" stroke-linejoin="round"/><circle cx="18" cy="822.7" r="2.4" fill="none" stroke="#8a8f9e" stroke-width="1.4"/>
<text x="36.3" y="758.8" class="n" style="letter-spacing:0.35px" fill="#ef8576">SHORT:62.1835</text>
<text x="143.3" y="758.8" class="n" style="letter-spacing:0.17px" fill="#e21fe6">MIDDLE:51.3517</text>
<text x="256.6" y="758.8" class="n" style="letter-spacing:0.24px" fill="#e3e33c">LONG:65.2631</text>
<text x="35.5" y="827.5" class="n" fill="#e0533a">DIFF:0.81006</text>
<text x="125.4" y="827.5" class="n" style="letter-spacing:0.2px" fill="#3f7ef2">DEA:1.27266</text>
<text x="216" y="827.5" class="n" style="letter-spacing:0.35px" fill="#3f7ef2">MACD:–0.92521</text>
</svg></body></html>
